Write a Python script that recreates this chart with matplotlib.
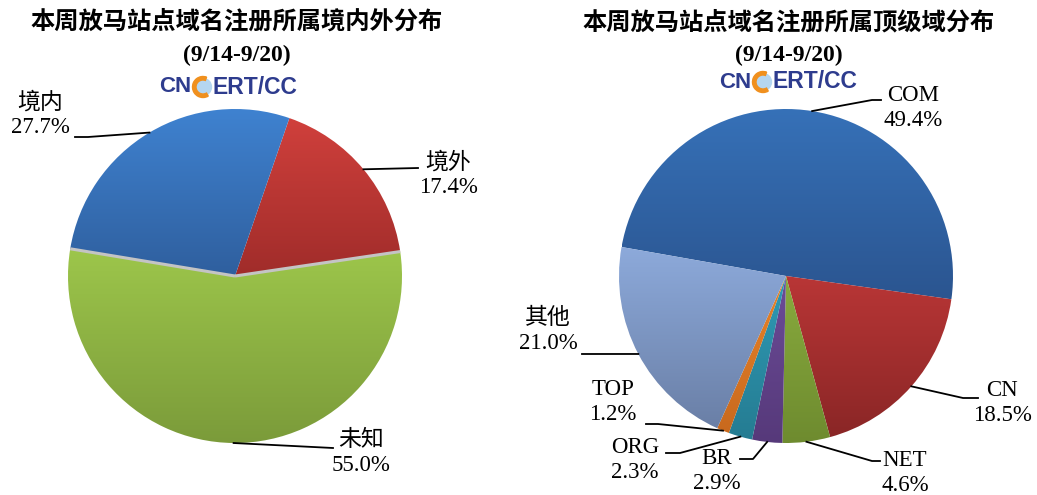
import numpy as np
import matplotlib
matplotlib.use('Agg')
import matplotlib.pyplot as plt
from matplotlib.colors import LinearSegmentedColormap
from matplotlib.patches import Circle, Wedge

plt.rcParams['font.family'] = ['Liberation Serif', 'Noto Sans CJK SC']

W, H = 1037, 495

# left chart: domestic / overseas / unknown
region_labels = ['境外', '未知', '境内']
region_values = [17.4, 55.0, 27.7]
region_top = ['#D0403C', '#9DC64B', '#3F82D0']
region_bottom = ['#A02C2A', '#7B9B3A', '#2F5F9E']

# right chart: top level domains
tld_labels = ['COM', 'CN', 'NET', 'BR', 'ORG', 'TOP', '其他']
tld_values = [49.4, 18.5, 4.6, 2.9, 2.3, 1.2, 21.0]
tld_top = ['#3671B8', '#B93636', '#89AB3E', '#6C4C98', '#2F9AB5', '#E8842A', '#8DAADB']
tld_bottom = ['#2B5590', '#8A2626', '#6E8B2F', '#56397A', '#257C92', '#C8691E', '#6A7FA6']

title_left = '本周放马站点域名注册所属境内外分布'
title_right = '本周放马站点域名注册所属顶级域分布'
subtitle = '(9/14-9/20)'


def Y(py):
    return H - py


def shade(ax, wedge, top, bottom):
    x0, y0, x1, y1 = wedge.get_path().get_extents().extents
    grad = np.linspace(0, 1, 256).reshape(-1, 1)
    cmap = LinearSegmentedColormap.from_list('g', [bottom, top])
    im = ax.imshow(grad, extent=(x0, x1, y0, y1), origin='lower', cmap=cmap,
                   aspect='auto', interpolation='bilinear', zorder=0.5)
    im.set_clip_path(wedge)
    wedge.set_facecolor('none')
    wedge.set_edgecolor('none')


def rim(wedge, th):
    cx, cy = wedge.center
    t = np.radians(th)
    return cx + wedge.r * np.cos(t), cy + wedge.r * np.sin(t)


def leader(ax, wedge, elbow, end, text_xy, text):
    ax_, ay_ = rim(wedge, (wedge.theta1 + wedge.theta2) / 2)
    ax.plot([ax_, elbow[0], end[0]], [ay_, Y(elbow[1]), Y(end[1])],
            color='black', lw=1.3, zorder=3)
    ax.text(text_xy[0], Y(text_xy[1]), text, ha='center', va='center',
            fontsize=16.5, linespacing=1.22, zorder=3)


def logo(ax, gx, gy):
    navy = '#2E3C8E'
    ax.add_patch(Circle((gx, Y(gy)), 8.5, color='#B5D6F0', zorder=2))
    ax.add_patch(Wedge((gx, Y(gy)), 10.5, 70, 300, width=3.5,
                       color='#F0901E', zorder=2.5))
    ax.text(gx - 12, Y(gy), 'CN', color=navy, fontsize=16, fontweight='bold',
            family='Liberation Sans', ha='right', va='center', zorder=3)
    ax.text(gx + 10, Y(gy), 'ERT/CC', color=navy, fontsize=16.5, fontweight='bold',
            family='Liberation Sans', ha='left', va='center', zorder=3)


fig = plt.figure(figsize=(W / 100, H / 100), dpi=100)
ax = fig.add_axes([0, 0, 1, 1])

# left pie
wl, _ = ax.pie(region_values, startangle=71, counterclock=False,
               center=(235, Y(276)), radius=167, explode=[0, 0.015, 0],
               frame=True)
for w, t, b in zip(wl, region_top, region_bottom):
    shade(ax, w, t, b)
# grey seam along the two straight sides of the exploded slice
g = wl[1]
for th in (g.theta1, g.theta2):
    ex, ey = rim(g, th)
    ax.plot([g.center[0], ex], [g.center[1], ey], color='#C4C4C4', lw=2.2,
            solid_capstyle='butt', zorder=2)

# right pie
wr, _ = ax.pie(tld_values, startangle=170, counterclock=False,
               center=(786, Y(276)), radius=167, frame=True)
for w, t, b in zip(wr, tld_top, tld_bottom):
    shade(ax, w, t, b)

fmt = lambda lab, v: f'{lab}\n{v:.1f}%'

# left labels
leader(ax, wl[0], (418, 168), (418, 168), (448, 175), fmt(region_labels[0], region_values[0]))
leader(ax, wl[1], (333, 448), (333, 448), (361, 453), fmt(region_labels[1], region_values[1]))
leader(ax, wl[2], (88, 137), (75, 137), (40, 115), fmt(region_labels[2], region_values[2]))

# right labels
right_layout = [
    ((872, 100), (881, 100), (913, 108)),
    ((963, 398), (978, 398), (1002, 403)),
    ((872, 461), (880, 461), (905, 473)),
    ((753, 459), (740, 459), (717, 471)),
    ((680, 453), (666, 453), (635, 460)),
    ((658, 424), (646, 424), (613, 402)),
    ((582, 354), (582, 354), (548, 331)),
]
for w, lab, v, (el, en, tx) in zip(wr, tld_labels, tld_values, right_layout):
    leader(ax, w, el, en, tx, fmt(lab, v))

# titles
for cx, title in [(237, title_left), (789, title_right)]:
    ax.text(cx, Y(22), title, ha='center', va='center', fontsize=17.5,
            fontweight='bold', family=['Noto Sans CJK SC'])
    ax.text(cx, Y(55), subtitle, ha='center', va='center', fontsize=17,
            fontweight='bold', family=['Liberation Serif'])

logo(ax, 203, 87)
logo(ax, 763, 82)

ax.set_xlim(0, W)
ax.set_ylim(0, H)
ax.set_aspect('equal')
ax.axis('off')

fig.savefig('out.png', dpi=100, facecolor='white')
